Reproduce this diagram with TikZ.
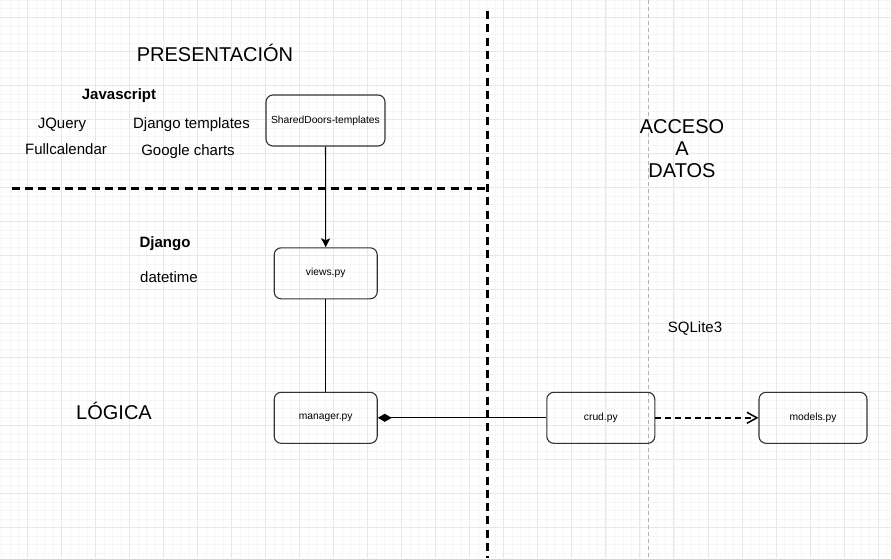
\documentclass[tikz,border=0pt]{standalone}
\usepackage{fontspec}
\setmainfont{Liberation Sans}
\usetikzlibrary{arrows.meta}
\definecolor{gridminor}{HTML}{F6F6F6}
\definecolor{gridmajor}{HTML}{E8E8E8}
\definecolor{boxline}{HTML}{333333}
\tikzset{
  module/.style={draw=boxline, line width=1.1pt, rounded corners=7pt, inner sep=0pt,
    minimum height=51pt, minimum width=103pt, font=\fontsize{10.3}{12}\selectfont},
  libtext/.style={font=\fontsize{15}{18}\selectfont},
  layertext/.style={font=\fontsize{20}{23}\selectfont, align=center},
  border/.style={line width=3pt, dash pattern=on 8pt off 5.3pt}
}
\begin{document}
\begin{tikzpicture}[x=1pt, y=-1pt]
         \useasboundingbox[fill=white] (0,0) rectangle (891,558);
         % grid
         \foreach \i in {0,...,104} \draw[gridminor, line width=0.6pt] ({1.78+8.5075*\i},0) -- ({1.78+8.5075*\i},558);
         \foreach \i in {0,...,65} \draw[gridminor, line width=0.6pt] (0,{0.285+8.5075*\i}) -- (891,{0.285+8.5075*\i});
         \foreach \i in {0,...,26} \draw[gridmajor, line width=0.8pt] ({27.3+34.03*\i},0) -- ({27.3+34.03*\i},558);
         \foreach \i in {0,...,16} \draw[gridmajor, line width=0.8pt] (0,{17.3+34.03*\i}) -- (891,{17.3+34.03*\i});
         % layer borders
         \draw[black!30, line width=0.8pt, dash pattern=on 4pt off 3pt] (648.3,0) -- (648.3,558);
         \draw[border] (487.3,11) -- (487.3,558);
         \draw[border] (11.7,188) -- (488,188);
         % layer titles
         \node[layertext] (presentacion) at (215,53) {PRESENTACIÓN};
         \node[layertext] (logica) at (114,411) {LÓGICA};
         \node[layertext, text depth=0pt] (acceso) at (682,149) {ACCESO\\[-1pt]A\\[-1pt]DATOS};
         % libraries
         \node[libtext, font=\fontsize{15}{18}\selectfont\bfseries] (javascript) at (119,95.5) {Javascript};
         \node[libtext] (jquery) at (62,124.5) {JQuery};
         \node[libtext] (djtemplates) at (191.5,124.5) {Django templates};
         \node[libtext] (fullcalendar) at (66,149.5) {Fullcalendar};
         \node[libtext] (gcharts) at (188,151.5) {Google charts};
         \node[libtext, font=\fontsize{15}{18}\selectfont\bfseries] (django) at (165,243.5) {Django};
         \node[libtext] (datetime) at (169,277.5) {datetime};
         \node[libtext] (sqlite) at (695,328) {SQLite3};
         % modules
         \node[module, minimum width=119pt] (templates) at (325.5,120.5) {SharedDoors-templates};
         \node[module] (views) at (325.7,273.3) {views.py};
         \node[module] (manager) at (325.7,417.8) {manager.py};
         \node[module, minimum width=108pt] (crud) at (600.8,417.8) {crud.py};
         \node[module, minimum width=108pt] (models) at (813,417.8) {models.py};
         % relations
         \draw[line width=1.1pt, -{Stealth[length=9pt, width=9pt, inset=2pt]}] (templates) -- (views);
         \draw[line width=1.1pt] (views) -- (manager);
         \draw[line width=1.1pt, {Diamond[length=14pt, width=8pt]}-] (manager) -- (crud);
         \draw[line width=1.8pt, dash pattern=on 6pt off 4pt, -{Straight Barb[length=10pt, width=11pt, line width=1.5pt]}] (crud) -- (models);
      \end{tikzpicture}
\end{document}
